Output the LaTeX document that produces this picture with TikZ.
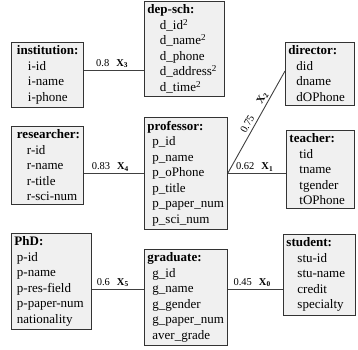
\documentclass[tikz,border=0pt]{standalone}
\usepackage{fontspec}
\setmainfont{Liberation Serif}
\tikzset{
  tbl/.style={draw=black!80, fill=black!6, line width=0.9pt, anchor=north west, align=left,
    inner xsep=3pt, inner ysep=3.5pt, font=\fontsize{13}{15.5}\selectfont},
  conn/.style={draw=black!75, line width=0.9pt},
  lbl/.style={above, inner sep=1.5pt, font=\fontsize{10.5}{12}\selectfont}
}
\begin{document}
\begin{tikzpicture}[x=1pt,y=1pt,yscale=-1]
\useasboundingbox (0,0) rectangle (358,349);
% left column
\node[tbl, text width=66pt] (inst) at (11,42) {\hspace*{2.5pt}\textbf{institution:}\\\hspace*{13.5pt}i-id\\\hspace*{13.5pt}i-name\\\hspace*{13.5pt}i-phone};
\node[tbl, text width=66pt] (res) at (11,126) {\hspace*{2.5pt}\textbf{researcher:}\\\hspace*{12.5pt}r-id\\\hspace*{12.5pt}r-name\\\hspace*{12.5pt}r-title\\\hspace*{12.5pt}r-sci-num};
\node[tbl, text width=74pt] (phd) at (11,233) {\textbf{PhD:}\\\hspace*{2.5pt}p-id\\\hspace*{2.5pt}p-name\\\hspace*{2.5pt}p-res-field\\\hspace*{2.5pt}p-paper-num\\\hspace*{2.5pt}nationality};
% middle column
\node[tbl, text width=74pt] (dep) at (144,1) {\textbf{dep-sch:}\\\hspace*{12.5pt}d\_id\textsuperscript{2}\\\hspace*{12.5pt}d\_name\textsuperscript{2}\\\hspace*{12.5pt}d\_phone\\\hspace*{12.5pt}d\_address\textsuperscript{2}\\\hspace*{12.5pt}d\_time\textsuperscript{2}};
\node[tbl, text width=77pt] (prof) at (144,117) {\textbf{professor:}\\\hspace*{5pt}p\_id\\\hspace*{5pt}p\_name\\\hspace*{5pt}p\_oPhone\\\hspace*{5pt}p\_title\\\hspace*{5pt}p\_paper\_num\\\hspace*{5pt}p\_sci\_num};
\node[tbl, text width=77pt] (grad) at (144,249) {\textbf{graduate:}\\\hspace*{5pt}g\_id\\\hspace*{5pt}g\_name\\\hspace*{5pt}g\_gender\\\hspace*{5pt}g\_paper\_num\\\hspace*{5pt}aver\_grade};
% right column
\node[tbl, text width=63pt] (dir) at (285,42) {\textbf{director:}\\\hspace*{8pt}did\\\hspace*{8pt}dname\\\hspace*{8pt}dOPhone};
\node[tbl, text width=62pt] (teach) at (286,130) {\textbf{teacher:}\\\hspace*{10pt}tid\\\hspace*{10pt}tname\\\hspace*{10pt}tgender\\\hspace*{10pt}tOPhone};
\node[tbl, text width=66pt] (stud) at (283,234) {\textbf{student:}\\\hspace*{11pt}stu-id\\\hspace*{11pt}stu-name\\\hspace*{11pt}credit\\\hspace*{11pt}specialty};
% links
\draw[conn] (inst.east |- 0,70) -- (dep.west |- 0,70) node[lbl, pos=.47] {0.8\hspace{7pt}\textbf{X\textsubscript{3}}};
\draw[conn] (res.east |- 0,173) -- (prof.west |- 0,173) node[lbl, pos=.44] {0.83\hspace{7pt}\textbf{X\textsubscript{4}}};
\draw[conn] (prof.east |- 0,173) -- (teach.west |- 0,173) node[lbl, pos=.46] {0.62\hspace{7pt}\textbf{X\textsubscript{1}}};
\draw[conn] (prof.east |- 0,173) -- (dir.west |- 0,71) node[lbl, pos=.56, anchor=south, rotate=61] {0.75\hspace{15pt}\textbf{X\textsubscript{2}}};
\draw[conn] (phd.east |- 0,289) -- (grad.west |- 0,289) node[lbl, pos=.40] {0.6\hspace{7pt}\textbf{X\textsubscript{5}}};
\draw[conn] (grad.east |- 0,289) -- (stud.west |- 0,289) node[lbl, pos=.44] {0.45\hspace{7pt}\textbf{X\textsubscript{0}}};
\end{tikzpicture}
\end{document}
